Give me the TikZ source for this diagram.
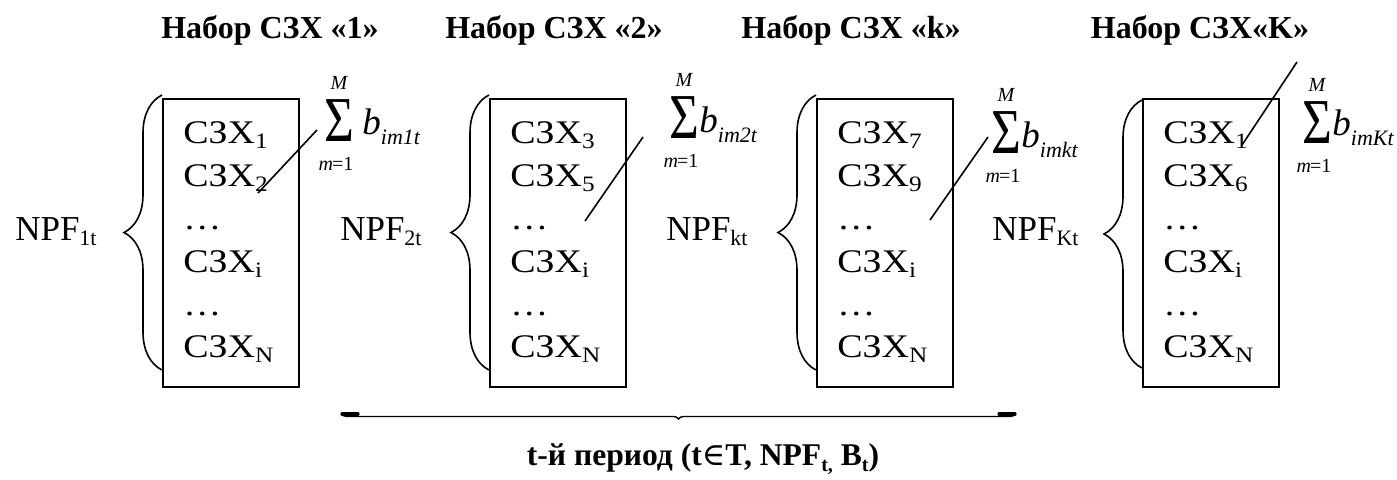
\documentclass[tikz,border=0pt]{standalone}
\usepackage{fontspec}
\setmainfont{Liberation Serif}
\newfontfamily\boxfont[FakeStretch=1.15]{Liberation Serif}
\newfontfamily\symfont{DejaVu Serif}
\usetikzlibrary{decorations.pathreplacing}

% lowered subscripts in text fonts
\newcommand{\bsub}[1]{\raisebox{-0.17em}{\fontsize{11}{11}\selectfont #1}}
\newcommand{\nsub}[1]{\raisebox{-0.15em}{\fontsize{11}{11}\selectfont #1}}
\newcommand{\isub}[1]{\raisebox{-0.28em}{\fontsize{11}{11}\selectfont\itshape #1}}
\newcommand{\tsub}[1]{\raisebox{-0.22em}{\fontsize{10}{10}\selectfont\bfseries #1}}
\newcommand{\bigsigma}{\scalebox{0.8}[1]{Σ}}

\tikzset{
  setbox/.style={draw, line width=0.8pt, minimum width=68pt, minimum height=144pt,
                 inner sep=0pt, anchor=north west},
  item/.style={anchor=base west, inner sep=0pt, font=\fontsize{16.5}{16.5}\boxfont},
  heading/.style={anchor=base, inner sep=0pt, font=\fontsize{16}{16}\selectfont\bfseries},
  npf/.style={anchor=base east, inner sep=0pt, font=\fontsize{17.5}{17.5}\selectfont},
  sig/.style={inner sep=0pt, font=\fontsize{32}{32}\selectfont},
  lim/.style={inner sep=0pt, font=\fontsize{10}{10}\selectfont\itshape},
  bterm/.style={anchor=base west, inner sep=0pt, font=\fontsize{18.5}{18.5}\selectfont\itshape},
  setbrace/.style={decorate, decoration={brace, amplitude=19pt}, line width=0.8pt},
  link/.style={line width=0.8pt},
}

\begin{document}
\begin{tikzpicture}[x=0.5pt, y=-0.5pt]
\useasboundingbox (0,0) rectangle (1397,479);

% headings of the four sets
\node[heading] (h1) at (270,38) {Набор СЗХ «1»};
\node[heading] (h2) at (554,38) {Набор СЗХ «2»};
\node[heading] (h3) at (851,38) {Набор СЗХ «k»};
\node[heading] (h4) at (1200,38) {Набор СЗХ«K»};

% boxes with their lists
\foreach \n/\x/\a/\b in {1/162/1/2, 2/489/3/5, 3/816/7/9, 4/1142/1/6} {
  \node[setbox] (box\n) at (\x,98) {};
  \node[item] (b\n r1) at (\x+21,143) {СЗХ\bsub{\a}};
  \node[item] (b\n r2) at (\x+21,186) {СЗХ\bsub{\b}};
  \node[item] (b\n r3) at (\x+21,229) {…};
  \node[item] (b\n r4) at (\x+21,272) {СЗХ\bsub{i}};
  \node[item] (b\n r5) at (\x+21,315) {…};
  \node[item] (b\n r6) at (\x+21,357) {СЗХ\bsub{N}};
}

% braces to the left of each box
\draw[setbrace] (box1.west |- 0,370) -- (box1.west |- 0,95);
\draw[setbrace] (box2.west |- 0,370) -- (box2.west |- 0,95);
\draw[setbrace] (box3.west |- 0,370) -- (box3.west |- 0,95);
\draw[setbrace] (box4.west |- 0,368) -- (box4.west |- 0,100);

% NPF labels
\node[npf] (n1) at (97,240)   {NPF\nsub{1t}};
\node[npf] (n2) at (422,240)  {NPF\nsub{2t}};
\node[npf] (n3) at (748,240)  {NPF\nsub{kt}};
\node[npf] (n4) at (1079,240) {NPF\nsub{Kt}};

% sums
\node[sig] (s1) at (339,121) {\bigsigma};
\node[lim] (s1M) at (339,83) {M};
\node[lim] (s1m) at (336,164) {m\kern-0.05em\upshape=1};
\node[bterm] (s1b) at (362,134) {b\isub{im1t}};

\node[sig] (s2) at (684,118) {\bigsigma};
\node[lim] (s2M) at (684,80) {M};
\node[lim] (s2m) at (681,161) {m\kern-0.05em\upshape=1};
\node[bterm] (s2b) at (699,132) {b\isub{im2t}};

\node[sig] (s3) at (1006,133) {\bigsigma};
\node[lim] (s3M) at (1006,95) {M};
\node[lim] (s3m) at (1003,176) {m\kern-0.05em\upshape=1};
\node[bterm] (s3b) at (1021,147) {b\isub{imkt}};

\node[sig] (s4) at (1317,123) {\bigsigma};
\node[lim] (s4M) at (1317,85) {M};
\node[lim] (s4m) at (1314,166) {m\kern-0.05em\upshape=1};
\node[bterm] (s4b) at (1332,135) {b\isub{imKt}};

% slanted pointers from the lists to the sums
\coordinate (p1a) at (258,193); \coordinate (p1b) at (317,130);
\coordinate (p2a) at (585,221); \coordinate (p2b) at (643,137);
\coordinate (p3a) at (930,220); \coordinate (p3b) at (988,137);
\coordinate (p4a) at (1242,145); \coordinate (p4b) at (1297,62);
\draw[link] (p1a) -- (p1b);
\draw[link] (p2a) -- (p2b);
\draw[link] (p3a) -- (p3b);
\draw[link] (p4a) -- (p4b);

% period brace and caption
\coordinate (pl) at (342,414);
\coordinate (pr) at (1015,414);
\draw[decorate, decoration={brace, mirror, amplitude=2.5pt}, line width=0.7pt] (pl) -- (pr);
\draw[line width=1.6pt, line cap=round] (pl) -- ++(16,0);
\draw[line width=1.6pt, line cap=round] (pr) -- ++(-16,0);
\node[anchor=base, inner sep=0pt, font=\fontsize{15.8}{15.8}\selectfont\bfseries] (cap) at (703,465)
  {t-й период (t{\symfont\mdseries ∈}T, NPF\tsub{t,} B\tsub{t})};
\end{tikzpicture}
\end{document}
